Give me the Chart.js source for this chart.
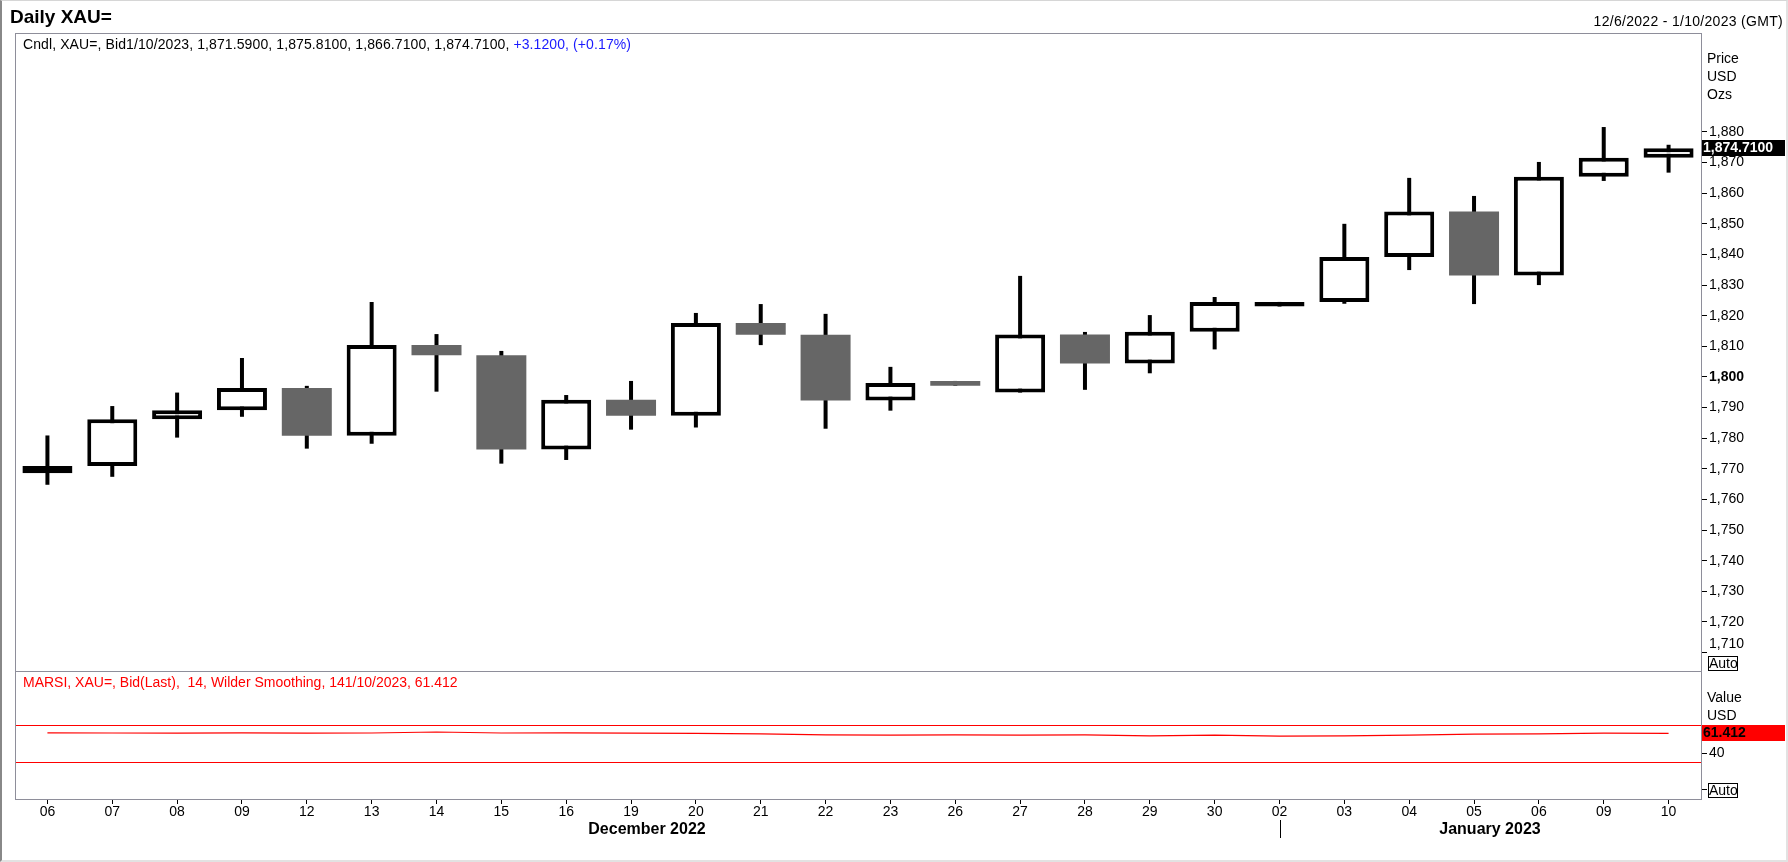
<!DOCTYPE html>
<html>
<head>
<meta charset="utf-8">
<title>Daily XAU=</title>
<script src="https://cdn.jsdelivr.net/npm/chart.js@4.4.1/dist/chart.umd.min.js"></script>
<style>
html, body { margin:0; padding:0; background:#fff; }
body { width:1788px; height:862px; position:relative; overflow:hidden; font-family:"Liberation Sans", Arial, sans-serif; color:#000; }
#frame { position:absolute; left:0; top:0; width:1788px; height:862px; box-sizing:border-box; border-left:2px solid #888; border-top:1px solid #d6d6d6; border-right:2px solid #e2e2e2; border-bottom:2px solid #e2e2e2; }
canvas { position:absolute; left:0; }
#cPrecio { top:0; }
#cRsi { top:620px; }
.txt { position:absolute; white-space:pre; font-size:14px; line-height:18px; z-index:5; }
#titulo { left:10px; top:6px; font-size:19px; line-height:22px; font-weight:bold; }
#rango { right:5px; top:12px; letter-spacing:0.3px; }
#cabecera { left:23px; top:35px; letter-spacing:0.1px; }
#cabecera span { color:#1a1aff; }
#rsiCab { left:23px; top:673px; color:#ff0000; }
#ejePrecio { left:1707px; top:49px; }
#ejeRsi { left:1707px; top:688px; }
.mes { position:absolute; width:240px; text-align:center; font-weight:bold; font-size:16px; line-height:18px; top:820px; z-index:5; }
.auto { position:absolute; left:1708px; width:28px; height:13px; border:1px solid #000; font-size:14px; line-height:13px; text-align:center; background:#fff; z-index:5; }
</style>
</head>
<body>
<div id="frame"></div>
<canvas id="cPrecio" width="1788" height="720" style="width:1788px;height:720px"></canvas>
<canvas id="cRsi" width="1788" height="242" style="width:1788px;height:242px"></canvas>
<div class="txt" id="titulo"></div>
<div class="txt" id="rango"></div>
<div class="txt" id="cabecera"></div>
<div class="txt" id="ejePrecio">Price<br>USD<br>Ozs</div>
<div class="txt" id="rsiCab"></div>
<div class="txt" id="ejeRsi">Value<br>USD</div>
<div class="mes" id="mesDic" style="left:527px">December 2022</div>
<div class="mes" id="mesEne" style="left:1370px">January 2023</div>
<div class="auto" style="top:656px">Auto</div>
<div class="auto" style="top:783px">Auto</div>
<script>
const ric = 'XAU=';
const fechaIni = '12/6/2022';
const fechaFin = '1/10/2023';
const dias = ['06','07','08','09','12','13','14','15','16','19','20','21','22','23','26','27','28','29','30','02','03','04','05','06','09','10'];
const meses = ['December 2022', 'January 2023'];
const inicioEnero = 19;

const apertura = [1768.6,1770.9,1786.2,1789.1,1796.4,1780.8,1810.4,1807.1,1776.3,1792.6,1787.3,1817.6,1813.8,1792.3,1798.7,1794.9,1813.9,1804.4,1814.8,1823.0,1824.5,1839.2,1854.0,1833.1,1865.4,1871.59];
const maximo   = [1780.9,1790.5,1794.9,1806.2,1797.1,1824.5,1814.0,1808.5,1794.1,1798.7,1820.9,1823.8,1820.6,1803.3,1798.7,1833.0,1814.7,1820.2,1826.1,1824.5,1850.0,1865.0,1859.1,1870.2,1881.6,1875.81];
const minimo   = [1764.8,1767.4,1780.2,1787.0,1776.6,1778.2,1795.2,1771.7,1772.9,1782.8,1783.5,1810.4,1783.1,1789.0,1797.1,1794.9,1795.8,1801.2,1809.0,1823.0,1823.9,1834.9,1823.8,1830.0,1864.0,1866.71];
const cierre   = [1770.9,1786.2,1789.1,1796.4,1780.8,1810.4,1807.1,1776.3,1792.6,1787.3,1817.6,1813.8,1792.3,1798.0,1797.1,1813.9,1804.4,1814.8,1824.5,1824.5,1839.2,1854.0,1833.1,1865.4,1871.59,1874.71];

const rsiPeriodo = 14;
const rsi = [61.9,61.8,61.7,61.9,61.6,61.8,62.9,61.8,61.9,61.7,61.5,60.8,59.8,59.6,59.7,59.5,59.8,58.6,59.6,58.5,58.7,59.6,60.6,60.9,61.7,61.412];
const rsiNiveles = [70, 30];

const ticksPrecio = [1710,1720,1730,1740,1750,1760,1770,1780,1790,1800,1810,1820,1830,1840,1850,1860,1870,1880];
const ticksRsi = [0, 40];

const fuente = '"Liberation Sans", Arial, sans-serif';
const ultimo = cierre.length - 1;

function fmt4(v){
    return v.toLocaleString('en-US', {minimumFractionDigits: 4, maximumFractionDigits: 4});
}

/* textos */
let cambio = cierre[ultimo] - cierre[ultimo - 1];
let pct = cambio / cierre[ultimo - 1] * 100;
document.getElementById('titulo').textContent = 'Daily ' + ric;
document.getElementById('rango').textContent = fechaIni + ' - ' + fechaFin + ' (GMT)';
document.getElementById('cabecera').innerHTML = 'Cndl, ' + ric + ', Bid' + fechaFin + ', ' +
    fmt4(apertura[ultimo]) + ', ' + fmt4(maximo[ultimo]) + ', ' + fmt4(minimo[ultimo]) + ', ' + fmt4(cierre[ultimo]) + ', ' +
    '<span>+' + fmt4(cambio) + ', (+' + pct.toFixed(2) + '%)</span>';
document.getElementById('rsiCab').textContent = 'MARSI, ' + ric + ', Bid(Last),  ' + rsiPeriodo + ', Wilder Smoothing, ' +
    rsiPeriodo + fechaFin + ', ' + rsi[ultimo].toFixed(3);
document.getElementById('mesDic').textContent = meses[0];
document.getElementById('mesEne').textContent = meses[1];

function marco(ctx, a){
    ctx.fillStyle = '#8e8e9a';
    ctx.fillRect(a.left, a.top, a.right - a.left + 1, 1);
    ctx.fillRect(a.left, a.bottom, a.right - a.left + 1, 1);
    ctx.fillRect(a.left, a.top, 1, a.bottom - a.top);
    ctx.fillRect(a.right, a.top, 1, a.bottom - a.top);
}

function etiquetaValor(ctx, a, py, texto, fondo, color){
    ctx.fillStyle = fondo;
    ctx.fillRect(a.right + 1, Math.round(py) - 8, 83, 16);
    ctx.fillStyle = color;
    ctx.font = 'bold 14px ' + fuente;
    ctx.textBaseline = 'middle';
    ctx.textAlign = 'left';
    ctx.fillText(texto, a.right + 2, Math.round(py) + 0.5);
}

const pluginPrecio = {
    id: 'pluginPrecio',
    afterDraw(chart){
        const ctx = chart.ctx, a = chart.chartArea;
        ctx.save();
        marco(ctx, a);
        etiquetaValor(ctx, a, chart.scales.y.getPixelForValue(cierre[ultimo]), fmt4(cierre[ultimo]), '#000', '#fff');
        ctx.restore();
    }
};

const pluginRsi = {
    id: 'pluginRsi',
    beforeDatasetsDraw(chart){
        const ctx = chart.ctx, a = chart.chartArea, y = chart.scales.y;
        ctx.save();
        ctx.fillStyle = '#ff0000';
        rsiNiveles.forEach(n => {
            ctx.fillRect(a.left, Math.floor(y.getPixelForValue(n)), a.right - a.left, 1);
        });
        ctx.restore();
    },
    afterDraw(chart){
        const ctx = chart.ctx, a = chart.chartArea;
        ctx.save();
        marco(ctx, a);
        etiquetaValor(ctx, a, chart.scales.y.getPixelForValue(rsi[ultimo]), rsi[ultimo].toFixed(3), '#ff0000', '#000');
        /* separador de mes */
        let xs = Math.round(chart.scales.x.getPixelForValue(inicioEnero));
        ctx.fillStyle = '#000';
        ctx.fillRect(xs, a.bottom + 21, 1, 18);
        ctx.restore();
    }
};

/* VELAS */
let cuerpos = apertura.map((o, i) => [o, cierre[i]]);
let mechas = minimo.map((l, i) => [l, maximo[i]]);
let sube = apertura.map((o, i) => cierre[i] >= o);

new Chart(document.getElementById('cPrecio'), {
    type: 'bar',
    data: {
        labels: dias,
        datasets: [{
            label: 'Cuerpo',
            data: cuerpos,
            backgroundColor: sube.map(s => s ? '#ffffff' : '#666666'),
            borderColor: '#000000',
            borderWidth: sube.map(s => s ? 4 : 0),
            borderSkipped: false,
            inflateAmount: 0,
            barThickness: 50,
            grouped: false
        },
        {
            label: 'Mecha',
            data: mechas,
            backgroundColor: '#000000',
            borderWidth: 0,
            inflateAmount: 0,
            barThickness: 4,
            grouped: false
        }]
    },
    options: {
        responsive: false,
        animation: false,
        layout: { padding: { left: 15, top: 33, right: 0, bottom: 49 } },
        plugins: { legend: { display: false }, tooltip: { enabled: false } },
        scales: {
            x: { type: 'category', offset: true, display: false },
            y: {
                position: 'right',
                min: 1704.0,
                max: 1912.3,
                afterFit: s => { s.width = 87; },
                afterBuildTicks: s => { s.ticks = ticksPrecio.map(v => ({ value: v })); },
                grid: { drawOnChartArea: false, drawTicks: true, tickLength: 6, tickColor: '#000', tickWidth: 1 },
                border: { display: false },
                ticks: {
                    padding: 2,
                    color: '#000',
                    font: ctx => ({ family: fuente, size: 14, weight: (ctx.tick && ctx.tick.value === 1800) ? 'bold' : 'normal' }),
                    callback: v => v === ticksPrecio[0] ? [v.toLocaleString('en-US'), ''] : v.toLocaleString('en-US')
                }
            }
        }
    },
    plugins: [pluginPrecio]
});

/* RSI */
new Chart(document.getElementById('cRsi'), {
    type: 'line',
    data: {
        labels: dias,
        datasets: [{
            label: 'MARSI',
            data: rsi,
            borderColor: '#ff0000',
            borderWidth: 1.2,
            pointRadius: 0,
            tension: 0,
            fill: false
        }]
    },
    options: {
        responsive: false,
        animation: false,
        layout: { padding: { left: 15, top: 51, right: 0, bottom: 0 } },
        plugins: { legend: { display: false }, tooltip: { enabled: false } },
        scales: {
            x: {
                type: 'category',
                offset: true,
                afterFit: s => { s.height = 63; },
                grid: { offset: false, drawOnChartArea: false, drawTicks: true, tickLength: 5, tickColor: '#000' },
                border: { display: false },
                ticks: { autoSkip: false, maxRotation: 0, padding: 0, color: '#000', font: { family: fuente, size: 14 } }
            },
            y: {
                position: 'right',
                min: -9.9,
                max: 129.2,
                afterFit: s => { s.width = 87; },
                afterBuildTicks: s => { s.ticks = ticksRsi.map(v => ({ value: v })); },
                grid: { drawOnChartArea: false, drawTicks: true, tickLength: 6, tickColor: '#000', tickWidth: 1 },
                border: { display: false },
                ticks: {
                    padding: 2,
                    color: '#000',
                    font: { family: fuente, size: 14 },
                    callback: v => v === 0 ? '' : String(v)
                }
            }
        }
    },
    plugins: [pluginRsi]
});
</script>
</body>
</html>
